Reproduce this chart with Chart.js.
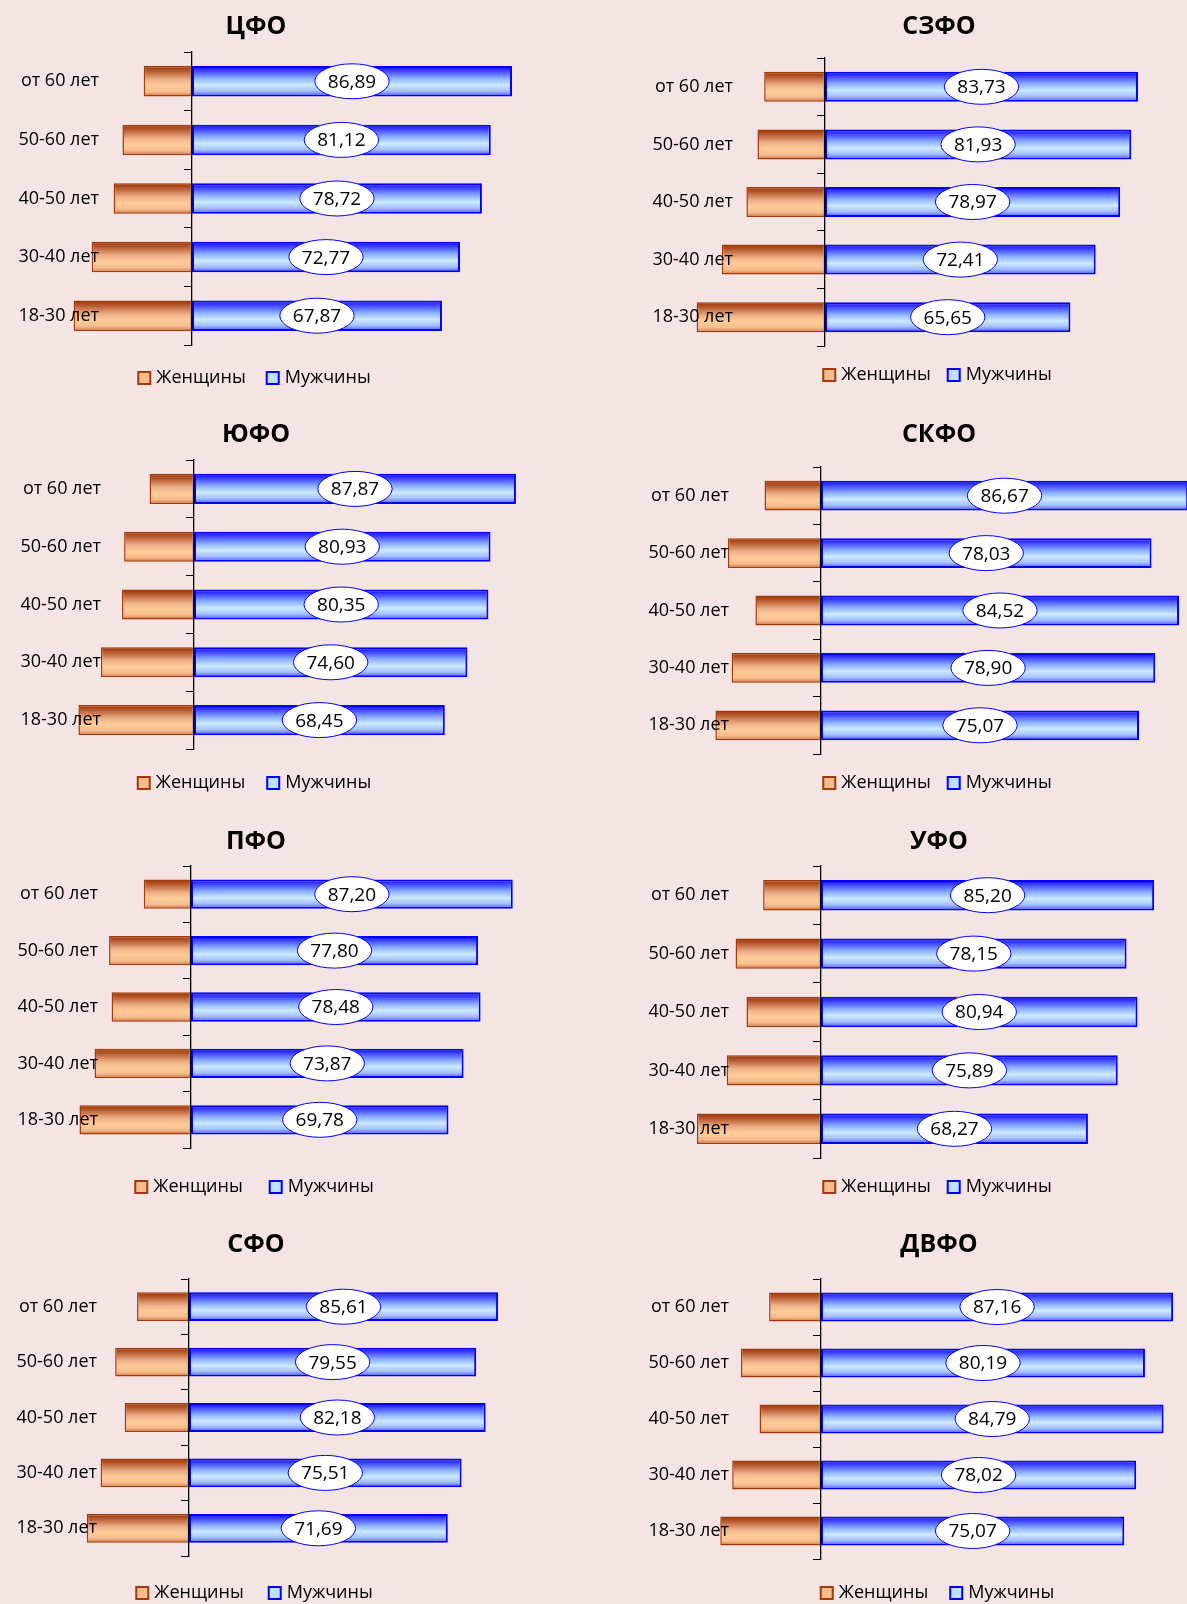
<!DOCTYPE html>
<html lang="ru">
<head>
<meta charset="utf-8">
<title>Мужчины и женщины по возрастным группам, федеральные округа</title>
<script src="https://cdn.jsdelivr.net/npm/chart.js@4.4.1/dist/chart.umd.min.js"></script>
<style>
  html, body { margin: 0; padding: 0; background: #f5e4e4; }
  #sheet { position: relative; width: 1187px; height: 1604px; overflow: hidden; background: #f5e4e4; }
  #sheet canvas { position: absolute; }
</style>
</head>
<body>
<div id="sheet"></div>
<script>
// Возрастные группы (сверху вниз) и подписи рядов
const ageGroups = ['от 60 лет', '50-60 лет', '40-50 лет', '30-40 лет', '18-30 лет'];
const seriesNames = ['Женщины', 'Мужчины'];

// Значения по округам, %
const menCFO = [86.89, 81.12, 78.72, 72.77, 67.87];
const womenCFO = [13.11, 18.88, 21.28, 27.23, 32.13];
const menSZFO = [83.73, 81.93, 78.97, 72.41, 65.65];
const womenSZFO = [16.27, 18.07, 21.03, 27.59, 34.35];
const menUFO_south = [87.87, 80.93, 80.35, 74.60, 68.45];
const womenUFO_south = [12.13, 19.07, 19.65, 25.40, 31.55];
const menSKFO = [86.67, 78.03, 84.52, 78.90, 75.07];
const womenSKFO = [13.33, 21.97, 15.48, 21.10, 24.93];
const menPFO = [87.20, 77.80, 78.48, 73.87, 69.78];
const womenPFO = [12.80, 22.20, 21.52, 26.13, 30.22];
const menUrFO = [85.20, 78.15, 80.94, 75.89, 68.27];
const womenUrFO = [14.80, 21.85, 19.06, 24.11, 31.73];
const menSFO = [85.61, 79.55, 82.18, 75.51, 71.69];
const womenSFO = [14.39, 20.45, 17.82, 24.49, 28.31];
const menDVFO = [87.16, 80.19, 84.79, 78.02, 75.07];
const womenDVFO = [12.84, 19.81, 15.21, 21.98, 24.93];

// Размещение панелей: колонка, верх, пиксель нуля, пикселей на единицу, край подписей, отступы
const panels = [
  { name: 'ЦФО',  men: menCFO,       women: womenCFO,       col: 0, top: 0,    zero: 273, unit: 3.683, labelEdge: 180, titleTop: 12, titleBottom: 10, legendPad: 24, bottomPad: 23 },
  { name: 'СЗФО', men: menSZFO,      women: womenSZFO,      col: 1, top: 0,    zero: 232, unit: 3.738, labelEdge: 140, titleTop: 12, titleBottom: 16, legendPad: 20, bottomPad: 26 },
  { name: 'ЮФО',  men: menUFO_south, women: womenUFO_south, col: 0, top: 400,  zero: 275, unit: 3.664, labelEdge: 182, titleTop: 20, titleBottom: 10, legendPad: 25, bottomPad: 18 },
  { name: 'СКФО', men: menSKFO,      women: womenSKFO,      col: 1, top: 400,  zero: 228, unit: 4.236, labelEdge: 136, titleTop: 20, titleBottom: 17, legendPad: 20, bottomPad: 18 },
  { name: 'ПФО',  men: menPFO,       women: womenPFO,       col: 0, top: 800,  zero: 272, unit: 3.69,  labelEdge: 179, titleTop: 27, titleBottom: 9,  legendPad: 30, bottomPad: 14 },
  { name: 'УФО',  men: menUrFO,      women: womenUrFO,      col: 1, top: 800,  zero: 228, unit: 3.91,  labelEdge: 136, titleTop: 27, titleBottom: 9,  legendPad: 20, bottomPad: 14 },
  { name: 'СФО',  men: menSFO,       women: womenSFO,       col: 0, top: 1200, zero: 270, unit: 3.61,  labelEdge: 178, titleTop: 30, titleBottom: 19, legendPad: 28, bottomPad: 8 },
  { name: 'ДВФО', men: menDVFO,      women: womenDVFO,      col: 1, top: 1200, zero: 228, unit: 4.04,  labelEdge: 136, titleTop: 30, titleBottom: 19, legendPad: 25, bottomPad: 8 }
];
const columns = [{ left: -81, width: 674 }, { left: 593, width: 692 }];
const canvasHeight = 420;
const barShare = 0.52;

const menStops = [[0, '#0000ff'], [0.12, '#3434ff'], [0.4, '#8aaeff'], [0.62, '#cdeaff'], [0.82, '#a4c0ff'], [1, '#4c4cff']];
const womenStops = [[0, '#993300'], [0.15, '#b3552a'], [0.45, '#efb189'], [0.65, '#ffcc99'], [0.85, '#f6bc8d'], [1, '#c97040']];

Chart.defaults.font.family = '"Open Sans", "DejaVu Sans", sans-serif';
Chart.defaults.color = '#000';

// градиент по высоте каждого столбика
function barFill(stops, flat) {
    return function (ctx) {
        const chart = ctx.chart;
        const yScale = chart.scales.y;
        if (!chart.chartArea || !yScale || ctx.type !== 'data') return flat;
        const y = yScale.getPixelForValue(ctx.dataIndex);
        const h = yScale.height / ageGroups.length * barShare;
        const g = chart.ctx.createLinearGradient(0, y - h / 2, 0, y + h / 2);
        stops.forEach(s => g.addColorStop(s[0], s[1]));
        return g;
    };
}

function formatValue(v) {
    return v.toFixed(2).replace('.', ',');
}

// белые овалы с подписями значений для мужчин
const ovalLabels = {
    id: 'ovalLabels',
    afterDatasetsDraw(chart) {
        const meta = chart.getDatasetMeta(1);
        const values = chart.data.datasets[1].data;
        const c = chart.ctx;
        c.save();
        c.font = '19px "Open Sans", sans-serif';
        c.textAlign = 'center';
        c.textBaseline = 'middle';
        meta.data.forEach((bar, i) => {
            const text = formatValue(values[i]);
            const cx = (bar.x + bar.base) / 2;
            const cy = bar.y;
            const rx = c.measureText(text).width / 2 + 13;
            c.beginPath();
            c.ellipse(cx, cy, rx, 17.5, 0, 0, Math.PI * 2);
            c.fillStyle = '#ffffff';
            c.fill();
            c.lineWidth = 1;
            c.strokeStyle = '#0000ff';
            c.stroke();
            c.fillStyle = '#000';
            c.fillText(text, cx, cy + 1);
        });
        c.restore();
    }
};

const sheet = document.getElementById('sheet');

panels.forEach(p => {
    const col = columns[p.col];
    const canvas = document.createElement('canvas');
    canvas.width = col.width;
    canvas.height = canvasHeight;
    canvas.style.left = col.left + 'px';
    canvas.style.top = p.top + 'px';
    canvas.style.width = col.width + 'px';
    canvas.style.height = canvasHeight + 'px';
    sheet.appendChild(canvas);

    const xMin = -p.zero / p.unit;
    const xMax = (col.width - p.zero) / p.unit;
    const labelPos = (p.labelEdge - p.zero) / p.unit;

    new Chart(canvas.getContext('2d'), {
        type: 'bar',
        data: {
            labels: ageGroups,
            datasets: [{
                label: seriesNames[0],
                data: p.women.map(v => -v),
                xAxisID: 'x',
                yAxisID: 'y',
                backgroundColor: barFill(womenStops, '#f6bc8d'),
                borderColor: '#a33a0a',
                borderWidth: 1.5,
                borderSkipped: false,
                barPercentage: barShare,
                categoryPercentage: 1
            }, {
                label: seriesNames[1],
                data: p.men,
                xAxisID: 'x',
                yAxisID: 'y',
                backgroundColor: barFill(menStops, '#bfe0ff'),
                borderColor: '#0000ff',
                borderWidth: 2,
                borderSkipped: false,
                barPercentage: barShare,
                categoryPercentage: 1
            }]
        },
        options: {
            indexAxis: 'y',
            responsive: false,
            animation: false,
            layout: { padding: { left: 0, right: 0, top: 0, bottom: p.bottomPad } },
            scales: {
                y: {
                    type: 'category',
                    axis: 'y',
                    position: { x: 0 },
                    stacked: true,
                    offset: true,
                    grid: { offset: true, drawOnChartArea: false, drawTicks: true, tickLength: 7, color: '#000', lineWidth: 1, z: 1 },
                    border: { display: true, color: '#000', width: 1.3, z: 1 },
                    ticks: { display: false }
                },
                yl: {
                    type: 'category',
                    axis: 'y',
                    position: { x: labelPos },
                    offset: true,
                    grid: { display: false, drawTicks: false },
                    border: { display: false },
                    ticks: { padding: 0, font: { size: 18 }, color: '#000', z: 2 }
                },
                x: {
                    type: 'linear',
                    display: false,
                    stacked: true,
                    min: xMin,
                    max: xMax
                }
            },
            plugins: {
                title: {
                    display: true,
                    text: p.name,
                    color: '#000',
                    font: { size: 25, weight: 'bold' },
                    padding: { top: p.titleTop, bottom: p.titleBottom }
                },
                legend: {
                    position: 'bottom',
                    labels: {
                        usePointStyle: true,
                        boxWidth: 6,
                        boxHeight: 12,
                        padding: p.legendPad,
                        font: { size: 18 },
                        color: '#000',
                        generateLabels: chart => chart.data.datasets.map((ds, i) => ({
                            text: ds.label,
                            fillStyle: i === 0 ? '#f6bc8d' : '#bfe0ff',
                            strokeStyle: ds.borderColor,
                            lineWidth: 2,
                            pointStyle: 'rect',
                            hidden: false,
                            datasetIndex: i
                        }))
                    }
                },
                tooltip: { enabled: false }
            }
        },
        plugins: [ovalLabels]
    });
});
</script>
</body>
</html>
